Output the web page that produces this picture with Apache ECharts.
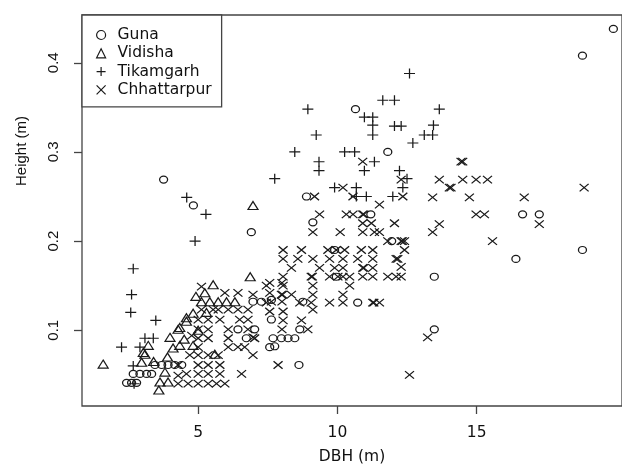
<!DOCTYPE html>
<html>
<head>
<meta charset="utf-8">
<title>Height vs DBH</title>
<script src="https://cdn.jsdelivr.net/npm/echarts@6/dist/echarts.min.js"></script>
<style>
  html, body { margin: 0; padding: 0; background: #fff; }
  #main { width: 622px; height: 470px; }
</style>
</head>
<body>
<div id="main"></div>
<script>
// DBH (m), Height (m)
var guna = [
  [19.91,0.438],[18.80,0.408],[10.65,0.348],[11.81,0.30],[3.76,0.269],[4.83,0.24],[8.89,0.25],
  [6.91,0.21],[9.12,0.221],[11.2,0.23],[11.95,0.20],[9.90,0.19],[9.96,0.16],[13.48,0.16],
  [10.73,0.131],[13.48,0.101],[16.41,0.18],[16.65,0.23],[17.25,0.23],[18.80,0.19],[8.62,0.061],
  [6.97,0.132],[7.27,0.132],[8.76,0.132],[7.63,0.134],[7.63,0.112],[6.43,0.101],[7.03,0.101],
  [6.73,0.091],[7.69,0.091],[7.99,0.091],[8.23,0.091],[8.47,0.091],[7.57,0.081],[7.75,0.082],
  [8.65,0.101],[3.45,0.061],[3.69,0.061],[3.92,0.061],[4.16,0.061],[4.41,0.061],
  [2.67,0.051],[2.91,0.051],[3.15,0.051],[3.33,0.051],[2.43,0.041],[2.61,0.041],[2.79,0.041]
];
var vidisha = [
  [1.59,0.062],[6.97,0.24],[6.87,0.16],[5.54,0.151],[3.21,0.083],[3.03,0.075],[2.97,0.064],
  [3.99,0.092],[4.28,0.101],[4.58,0.11],[4.82,0.119],[4.34,0.103],[4.58,0.114],[5.12,0.132],
  [5.42,0.132],[5.72,0.132],[6.02,0.132],[6.32,0.132],[3.81,0.053],[3.63,0.042],[3.92,0.042],
  [3.59,0.033],[4.34,0.083],[4.82,0.083],[5.6,0.073],[4.92,0.138],[5.24,0.142],[3.9,0.07],
  [4.5,0.09],[5.0,0.1],[4.1,0.08],[3.4,0.065],[5.3,0.12],[3.09,0.073]
];
var tikamgarh = [
  [12.59,0.388],[11.63,0.358],[12.05,0.358],[13.66,0.348],[8.94,0.348],[10.97,0.339],[11.27,0.339],
  [11.27,0.33],[11.27,0.319],[12.05,0.329],[12.29,0.329],[13.45,0.33],[13.12,0.319],[13.42,0.319],
  [9.24,0.319],[12.71,0.31],[8.47,0.30],[10.26,0.30],[10.62,0.30],[9.34,0.289],[9.34,0.279],
  [11.33,0.289],[10.97,0.279],[12.23,0.279],[7.75,0.27],[12.5,0.27],[12.35,0.26],[9.90,0.26],
  [10.68,0.26],[10.68,0.25],[11.04,0.25],[11.99,0.25],[4.59,0.249],[5.28,0.23],[4.89,0.20],
  [2.67,0.169],[2.61,0.14],[2.58,0.12],[3.48,0.111],[2.25,0.081],[3.09,0.091],[3.39,0.091],
  [2.91,0.081],[2.67,0.06],[2.7,0.04]
];
var chhattarpur = [
  [13.66,0.269],[14.5,0.269],[14.98,0.269],[15.39,0.269],[14.44,0.289],[14.5,0.289],[14.02,0.26],
  [14.08,0.26],[13.42,0.249],[14.74,0.249],[16.71,0.249],[18.86,0.26],[14.98,0.23],[15.28,0.23],
  [17.25,0.219],[13.66,0.219],[13.42,0.21],[15.57,0.20],[12.59,0.05],[13.24,0.092],
  [10.91,0.289],[12.29,0.269],[10.20,0.26],[10.56,0.25],[12.35,0.25],[9.18,0.25],[11.51,0.241],
  [9.36,0.23],[10.32,0.23],[10.56,0.23],[10.91,0.23],[10.95,0.23],[10.91,0.22],[11.22,0.22],
  [12.05,0.22],[9.12,0.21],[10.10,0.21],[10.91,0.21],[11.33,0.21],[11.51,0.21],[11.81,0.20],
  [12.29,0.20],[12.33,0.20],[12.41,0.20],[12.41,0.19],[12.17,0.18],[12.29,0.171],[12.29,0.16],
  [8.05,0.19],[8.71,0.19],[9.66,0.19],[9.96,0.19],[10.26,0.19],[10.86,0.19],[11.27,0.19],
  [8.05,0.18],[8.58,0.18],[9.12,0.18],[9.72,0.18],[10.20,0.18],[10.73,0.18],[11.27,0.18],[12.11,0.18],
  [8.35,0.17],[9.36,0.17],[9.90,0.17],[10.20,0.17],[10.91,0.17],[10.95,0.17],[11.27,0.17],
  [8.05,0.16],[9.06,0.16],[9.1,0.16],[9.72,0.16],[10.02,0.16],[10.20,0.16],[10.44,0.16],
  [10.91,0.16],[11.27,0.16],[11.81,0.16],[12.11,0.16],
  [7.45,0.15],[8.05,0.15],[9.12,0.15],[10.44,0.15],[7.57,0.153],[8.01,0.153],
  [6.97,0.14],[7.99,0.14],[8.03,0.14],[8.35,0.14],[9.12,0.14],[10.20,0.14],[5.96,0.142],
  [6.43,0.142],[7.57,0.142],
  [7.45,0.131],[8.65,0.131],[9.06,0.131],[9.72,0.131],[10.20,0.131],[11.27,0.131],[11.31,0.131],
  [11.51,0.131],[7.63,0.132],[8.01,0.132],
  [7.57,0.121],[8.05,0.121],[5.12,0.123],[5.54,0.123],[5.72,0.123],[6.08,0.123],[6.43,0.123],
  [6.79,0.123],[9.12,0.123],
  [8.05,0.111],[8.71,0.111],[5.0,0.112],[5.36,0.112],[5.78,0.112],[6.49,0.112],[6.79,0.112],
  [8.94,0.101],[5.0,0.101],[5.36,0.101],[6.08,0.101],[6.79,0.101],[8.01,0.101],
  [6.97,0.092],[5.0,0.091],[5.36,0.091],[6.08,0.091],[7.03,0.091],
  [5.0,0.081],[6.08,0.081],[6.43,0.081],[6.67,0.081],
  [6.97,0.072],[5.0,0.072],[5.36,0.072],[5.72,0.072],
  [7.87,0.061],[5.0,0.061],[5.36,0.061],[5.78,0.061],
  [5.0,0.051],[5.36,0.051],[5.78,0.051],[6.56,0.051],
  [5.0,0.04],[5.36,0.04],[5.66,0.04],[5.96,0.04],
  [5.12,0.149],[4.28,0.061],[4.28,0.049],[4.28,0.04],[4.64,0.04],[4.58,0.051],[4.7,0.072],[4.77,0.094]
];
var xTicks = [5, 10, 15];
var yTicks = [0.1, 0.2, 0.3, 0.4];

var ink = '#1a1a1a';
var frame = '#444';
var font = 'DejaVu Sans';
var plusPath = 'path://M0 5L10 5M5 0L5 10';
var crossPath = 'path://M0 0L10 10M10 0L0 10';

function pts(name, data, symbol, size) {
  return {
    name: name,
    type: 'scatter',
    data: data,
    symbol: symbol,
    symbolSize: size,
    itemStyle: { color: 'rgba(0,0,0,0)', borderColor: ink, borderWidth: 1.2, opacity: 1 },
    emphasis: { disabled: true },
    silent: true
  };
}

var chart = echarts.init(document.getElementById('main'));
chart.setOption({
  animation: false,
  backgroundColor: '#fff',
  grid: {
    left: 82, top: 15, right: -1, bottom: 59,
    show: true, borderColor: frame, borderWidth: 1.3, backgroundColor: 'rgba(0,0,0,0)'
  },
  legend: {
    orient: 'vertical',
    left: 82, top: 15,
    padding: [12, 10, 9, 14],
    itemWidth: 9, itemHeight: 9, itemGap: 2.3,
    backgroundColor: '#fff',
    borderColor: frame, borderWidth: 1.3, borderRadius: 0,
    selectedMode: false,
    itemStyle: { borderWidth: 1.2 },
    textStyle: { fontSize: 15.5, fontFamily: font, color: '#111', lineHeight: 16, padding: [0, 0, 0, 7] },
    data: ['Guna', 'Vidisha', 'Tikamgarh', 'Chhattarpur']
  },
  xAxis: {
    type: 'value', min: 0.83, max: 20.22,
    axisLine: { show: false },
    splitLine: { show: false },
    axisTick: { show: true, length: 8, customValues: xTicks, lineStyle: { color: frame, width: 1.3 } },
    axisLabel: { customValues: xTicks, margin: 19, fontSize: 15.5, fontFamily: font, color: '#111' },
    name: 'DBH (m)', nameLocation: 'middle', nameGap: 43,
    nameTextStyle: { fontSize: 15.5, fontFamily: font, color: '#111' }
  },
  yAxis: {
    type: 'value', min: 0.015, max: 0.4536,
    axisLine: { show: false },
    splitLine: { show: false },
    axisTick: { show: true, length: 8, customValues: yTicks, lineStyle: { color: frame, width: 1.3 } },
    axisLabel: { customValues: yTicks, rotate: 90, margin: 21, fontSize: 15, fontFamily: 'Liberation Sans', color: '#111' }
  },
  graphic: [{
    type: 'text', x: 22, y: 151, rotation: Math.PI / 2,
    style: { text: 'Height (m)', fontSize: 15, fontFamily: 'Liberation Sans', fill: '#111', align: 'center', verticalAlign: 'middle' }
  }],
  series: [
    pts('Guna', guna, 'circle', [8, 7]),
    pts('Vidisha', vidisha, 'triangle', [10, 8]),
    pts('Tikamgarh', tikamgarh, plusPath, [11, 10]),
    pts('Chhattarpur', chhattarpur, crossPath, [9, 7.5])
  ]
});
</script>
</body>
</html>
